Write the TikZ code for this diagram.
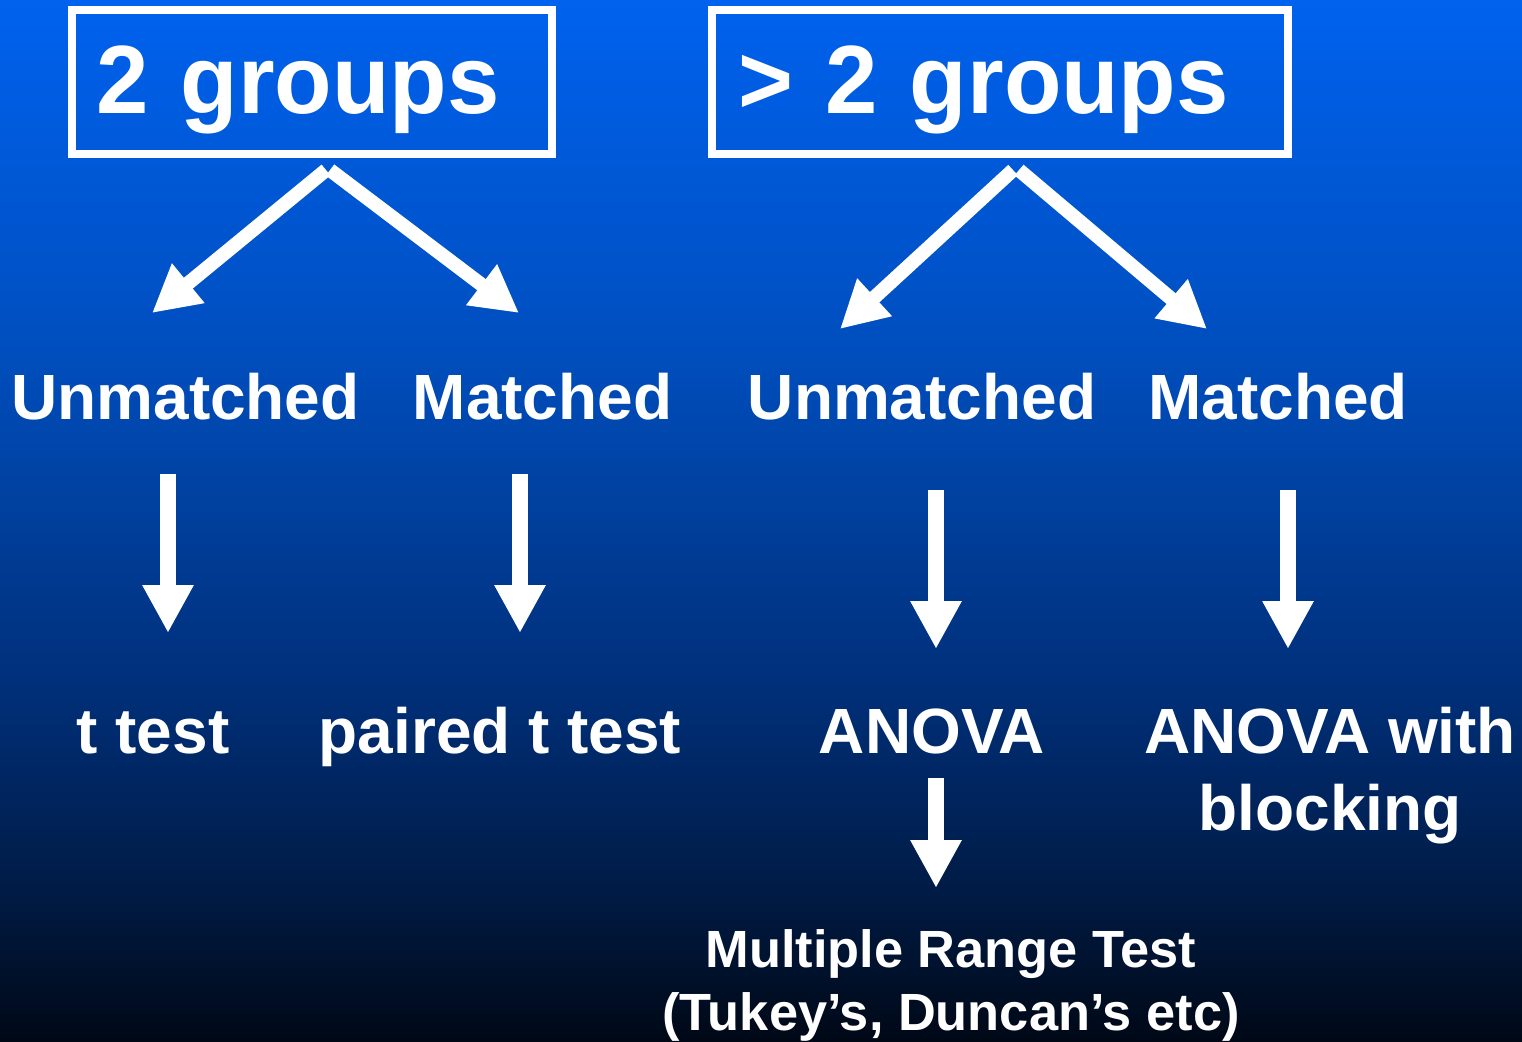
\documentclass[tikz,border=0pt]{standalone}
\usepackage{fontspec}
\setmainfont{Liberation Sans}
\newfontfamily\titlefont[FakeStretch=0.97]{Liberation Sans}
\usetikzlibrary{arrows.meta}
\definecolor{bgA}{RGB}{0,98,238}
\definecolor{bgB}{RGB}{0,78,190}
\definecolor{bgC}{RGB}{0,46,118}
\definecolor{bgD}{RGB}{0,26,66}
\definecolor{bgE}{RGB}{0,8,22}
\tikzset{
  lbl/.style={text=white, font=\bfseries\fontsize{18.2}{21.9}\selectfont, inner sep=0pt, anchor=base, align=center},
  ttl/.style={draw=white, line width=0.08cm, text=white, font=\titlefont\bfseries\fontsize{27.6}{30}\selectfont,
    align=left, text height=0.62cm, text depth=0cm, minimum height=1.44cm, inner ysep=0pt},
  small/.style={text=white, font=\bfseries\fontsize{14.9}{17.9}\selectfont, inner sep=0pt, anchor=base, align=center},
  diag/.style={draw=white, line width=0.14cm, -{Triangle[length=0.47cm,width=0.48cm]}},
  vert/.style={draw=white, line width=0.16cm, -{Triangle[length=0.48cm,width=0.48cm]}},
}
\begin{document}
\begin{tikzpicture}
\useasboundingbox (0,0) rectangle (15.22,-10.41);
% background gradient
\fill[top color=bgA, bottom color=bgB] (0,0) rectangle (15.22,-3.52);
\fill[top color=bgB, bottom color=bgC] (0,-3.50) rectangle (15.22,-7.02);
\fill[top color=bgC, bottom color=bgD] (0,-7.00) rectangle (15.22,-9.02);
\fill[top color=bgD, bottom color=bgE] (0,-9.00) rectangle (15.22,-10.41);

% title boxes
\node[ttl, inner xsep=0.24cm, text width=4.32cm] (g2) at (3.12,-0.82) {2 groups};
\node[ttl, inner xsep=0.26cm, text width=5.24cm] (g3) at (10.00,-0.82) {> 2 groups};

% second row
\node[lbl] (u1) at (1.855,-4.19) {Unmatched};
\node[lbl] (m1) at (5.425,-4.19) {Matched};
\node[lbl] (u2) at (9.22,-4.19) {Unmatched};
\node[lbl] (m2) at (12.78,-4.19) {Matched};

% third row
\node[lbl] (tt) at (1.53,-7.53) {t test};
\node[lbl] (pt) at (5.00,-7.53) {paired t test};
\node[lbl] (an) at (9.32,-7.53) {ANOVA};
\node[lbl] (ab) at (13.30,-8.30) {ANOVA with\\blocking};
\node[small] (mr) at (9.51,-10.30) {Multiple Range Test\\(Tukey’s, Duncan’s etc)};

% arrow end points
\coordinate (d1s) at (3.26,-1.70); \coordinate (d1e) at (1.52,-3.13);
\coordinate (d2s) at (3.30,-1.70); \coordinate (d2e) at (5.19,-3.13);
\coordinate (d3s) at (10.13,-1.70); \coordinate (d3e) at (8.40,-3.29);
\coordinate (d4s) at (10.19,-1.70); \coordinate (d4e) at (12.07,-3.29);
\coordinate (v1s) at (1.68,-4.74); \coordinate (v1e) at (1.68,-6.33);
\coordinate (v2s) at (5.20,-4.74); \coordinate (v2e) at (5.20,-6.33);
\coordinate (v3s) at (9.36,-4.90); \coordinate (v3e) at (9.36,-6.49);
\coordinate (v4s) at (12.88,-4.90); \coordinate (v4e) at (12.88,-6.49);
\coordinate (v5s) at (9.36,-7.78); \coordinate (v5e) at (9.36,-8.88);

\draw[diag] (d1s) -- (d1e);
\draw[diag] (d2s) -- (d2e);
\draw[diag] (d3s) -- (d3e);
\draw[diag] (d4s) -- (d4e);
\draw[vert] (v1s) -- (v1e);
\draw[vert] (v2s) -- (v2e);
\draw[vert] (v3s) -- (v3e);
\draw[vert] (v4s) -- (v4e);
\draw[vert] (v5s) -- (v5e);
\end{tikzpicture}
\end{document}
